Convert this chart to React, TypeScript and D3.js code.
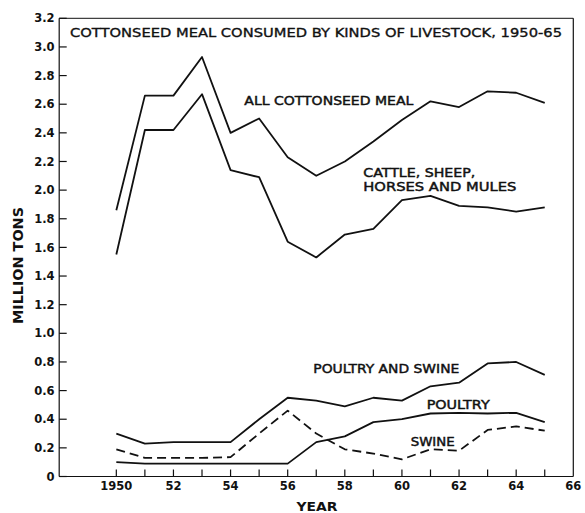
import React from "react";
import * as d3 from "d3";

const years = [1950, 1951, 1952, 1953, 1954, 1955, 1956, 1957, 1958, 1959, 1960, 1961, 1962, 1963, 1964, 1965];
const allMeal = [1.86, 2.66, 2.66, 2.93, 2.4, 2.5, 2.23, 2.1, 2.2, 2.34, 2.49, 2.62, 2.58, 2.69, 2.68, 2.61];
const cattle = [1.55, 2.42, 2.42, 2.67, 2.14, 2.09, 1.64, 1.53, 1.69, 1.73, 1.93, 1.96, 1.89, 1.88, 1.85, 1.88];
const poultrySwine = [0.3, 0.23, 0.24, 0.24, 0.24, 0.4, 0.55, 0.53, 0.49, 0.55, 0.53, 0.63, 0.655, 0.79, 0.8, 0.71];
const poultry = [0.1, 0.09, 0.09, 0.09, 0.09, 0.09, 0.09, 0.24, 0.28, 0.38, 0.4, 0.44, 0.445, 0.44, 0.445, 0.38];
const swine = [0.19, 0.13, 0.13, 0.13, 0.135, 0.3, 0.46, 0.3, 0.19, 0.16, 0.12, 0.19, 0.18, 0.325, 0.35, 0.32];

const yTicks = [0, 0.2, 0.4, 0.6, 0.8, 1.0, 1.2, 1.4, 1.6, 1.8, 2.0, 2.2, 2.4, 2.6, 2.8, 3.0, 3.2];
const xTickYears = [1950, 1951, 1952, 1953, 1954, 1955, 1956, 1957, 1958, 1959, 1960, 1961, 1962, 1963, 1964, 1965];
const xLabelYears = [1950, 1952, 1954, 1956, 1958, 1960, 1962, 1964, 1966];

const title = "COTTONSEED MEAL CONSUMED BY KINDS OF LIVESTOCK, 1950-65";

export default function App() {
  const x = d3.scaleLinear().domain([1948, 1966]).range([59.2, 573.3]);
  const y = d3.scaleLinear().domain([0, 3.2]).range([476.5, 18.3]);
  const line = (vals: number[]) =>
    d3
      .line<number>()
      .x((_, i) => x(years[i]))
      .y((v) => y(v))(vals) as string;

  const font = "'DejaVu Sans', sans-serif";
  const ink = "#111";

  const series = [
    { v: allMeal, dash: undefined },
    { v: cattle, dash: undefined },
    { v: poultrySwine, dash: undefined },
    { v: poultry, dash: undefined },
    { v: swine, dash: "9,5" },
  ];

  const lab = { fontSize: 12.3, fill: ink, stroke: ink, strokeWidth: 0.45, lengthAdjust: "spacingAndGlyphs" } as any;

  return (
    <svg
      width={585}
      height={513}
      style={{ position: "absolute", left: 0, top: 0, background: "#fff" }}
      fontFamily={font}
    >
      <rect x={0} y={0} width={585} height={513} fill="#fff" />
      {/* frame */}
      <line x1={x(1948)} x2={x(1966)} y1={y(3.2)} y2={y(3.2)} stroke={ink} strokeWidth={1} />
      <line x1={x(1966)} x2={x(1966)} y1={y(3.2)} y2={y(0)} stroke={ink} strokeWidth={1.2} />
      <line x1={x(1948)} x2={x(1948)} y1={y(3.2)} y2={y(0)} stroke={ink} strokeWidth={1.2} />
      <line x1={x(1948)} x2={x(1966)} y1={y(0)} y2={y(0)} stroke={ink} strokeWidth={1.2} />

      {/* y ticks */}
      {yTicks.map((t) => (
        <g key={t}>
          <line x1={x(1948)} x2={x(1948) + 7.5} y1={y(t)} y2={y(t)} stroke={ink} strokeWidth={1.2} />
          <text
            x={54.5}
            y={y(t)}
            dy="0.36em"
            textAnchor="end"
            fontSize={11.5}
            fontWeight="bold"
            fill={ink}
          >
            {t === 0 ? "0" : d3.format(".1f")(t)}
          </text>
        </g>
      ))}

      {/* x ticks */}
      {xTickYears.map((t) => (
        <line key={t} x1={x(t)} x2={x(t)} y1={y(0)} y2={y(0) - 7} stroke={ink} strokeWidth={1.2} />
      ))}
      {xLabelYears.map((t) => (
        <text
          key={t}
          x={x(t)}
          y={489.5}
          textAnchor="middle"
          fontSize={11.5}
          fontWeight="bold"
          fill={ink}
        >
          {t === 1950 ? "1950" : String(t - 1900)}
        </text>
      ))}

      <text x={317} y={511} textAnchor="middle" fontSize={12.5} fontWeight="bold" fill={ink} textLength={41} lengthAdjust="spacingAndGlyphs">
        YEAR
      </text>
      <text
        transform={`translate(22.5,265.5) rotate(-90)`}
        textAnchor="middle"
        fontSize={13.5}
        fontWeight="bold"
        fill={ink}
        textLength={117}
        lengthAdjust="spacingAndGlyphs"
      >
        MILLION TONS
      </text>

      {/* title */}
      <text x={70} y={36.7} {...lab} fontSize={12.8} strokeWidth={0.35} textLength={492}>
        {title}
      </text>

      {/* series */}
      {series.map((s, i) => (
        <path
          key={i}
          d={line(s.v)}
          fill="none"
          stroke={ink}
          strokeWidth={1.8}
          strokeDasharray={s.dash}
          strokeLinejoin="round"
        />
      ))}

      {/* annotations */}
      <text x={244.3} y={105} {...lab} textLength={169}>
        ALL COTTONSEED MEAL
      </text>
      <text x={363.3} y={176.7} {...lab} textLength={112}>
        CATTLE, SHEEP,
      </text>
      <text x={363.3} y={191} {...lab} textLength={153}>
        HORSES AND MULES
      </text>
      <text x={313.3} y={373.3} {...lab} textLength={146}>
        POULTRY AND SWINE
      </text>
      <text x={426.7} y={409.3} {...lab} textLength={63}>
        POULTRY
      </text>
      <text x={410.7} y={446} {...lab} textLength={44}>
        SWINE
      </text>
    </svg>
  );
}
